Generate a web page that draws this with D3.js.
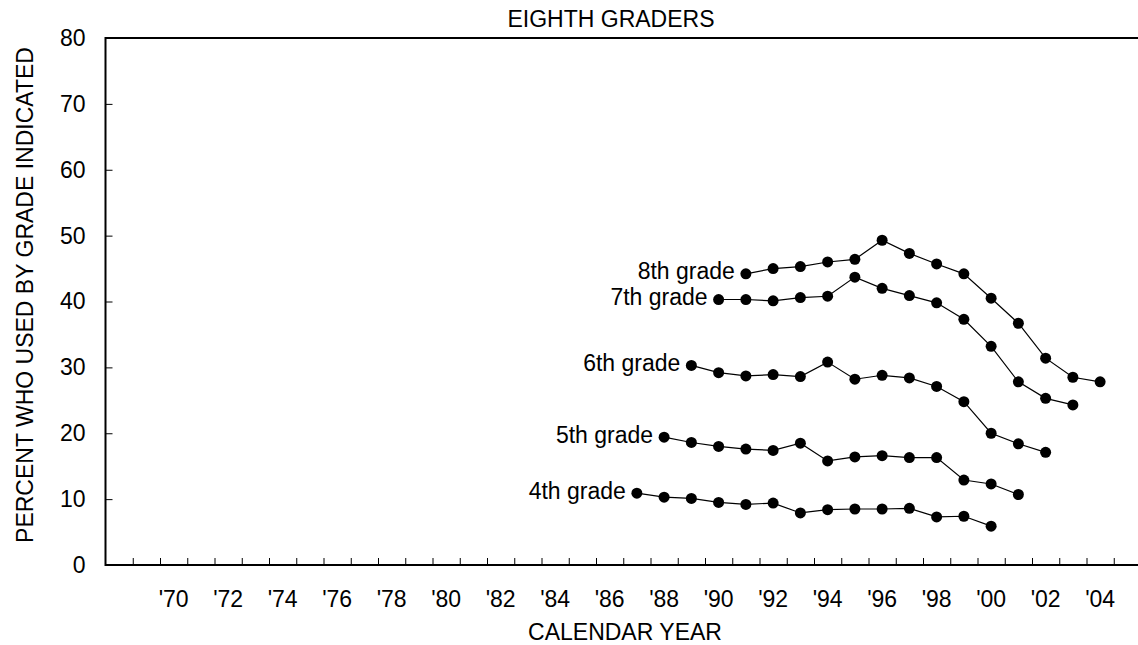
<!DOCTYPE html>
<html>
<head>
<meta charset="utf-8">
<script src="https://cdn.jsdelivr.net/npm/d3@7"></script>
<style>
    body { margin: 0; background: #fff; }
    text { font-family: "Liberation Sans", Arial, sans-serif; fill: #000; }
</style>
</head>
<body>
<div id="chart"></div>
<script>
// Eighth graders - retrospective use by grade
const grades = ['4th grade', '5th grade', '6th grade', '7th grade', '8th grade'];
const startYears = [1987, 1988, 1989, 1990, 1991];

const grade4 = [10.9, 10.3, 10.1, 9.5, 9.2, 9.4, 7.9, 8.4, 8.5, 8.5, 8.6, 7.3, 7.4, 5.9];
const grade5 = [19.4, 18.6, 18.0, 17.6, 17.4, 18.5, 15.8, 16.4, 16.6, 16.3, 16.3, 12.9, 12.3, 10.7];
const grade6 = [30.3, 29.2, 28.7, 28.9, 28.6, 30.8, 28.2, 28.8, 28.4, 27.1, 24.8, 20.0, 18.4, 17.1];
const grade7 = [40.3, 40.3, 40.1, 40.6, 40.8, 43.7, 42.0, 40.9, 39.8, 37.3, 33.2, 27.8, 25.3, 24.3];
const grade8 = [44.2, 45.0, 45.3, 46.0, 46.4, 49.3, 47.3, 45.7, 44.2, 40.5, 36.7, 31.4, 28.5, 27.8];

const yTicks = [0, 10, 20, 30, 40, 50, 60, 70, 80];
const xLabelYears = d3.range(1970, 2005, 2);
const xTickYears = d3.range(1968.5, 2005, 1);

const width = 1138;
const height = 645;
const fontSize = 23;

const svg = d3.select('#chart')
    .append('svg')
    .attr('width', width)
    .attr('height', height);

const x = d3.scaleLinear()
    .domain([1967.5, 2005.5])
    .range([105.5, 1141]);

const y = d3.scaleLinear()
    .domain([0, 80])
    .range([565, 38]);

// Title
svg.append('text')
    .attr('x', 611)
    .attr('y', 27)
    .attr('text-anchor', 'middle')
    .attr('font-size', fontSize + 'px')
    .text('EIGHTH GRADERS');

// Y axis ticks (inward)
const yAxis = d3.axisLeft(y)
    .tickValues(yTicks)
    .tickSize(-7)
    .tickPadding(20)
    .tickFormat(d3.format('d'));

const yAxisG = svg.append('g')
    .attr('transform', `translate(${x(1967.5)},0)`)
    .call(yAxis);
yAxisG.select('.domain').remove();
yAxisG.selectAll('.tick line').attr('stroke', '#000').attr('stroke-width', 1);
yAxisG.selectAll('.tick text')
    .attr('font-size', fontSize + 'px')
    .attr('font-family', '"Liberation Sans", Arial, sans-serif')
    .attr('fill', '#000');

// X axis ticks (inward)
const xAxis = d3.axisBottom(x)
    .tickValues(xTickYears)
    .tickSize(-7)
    .tickFormat('');

const xAxisG = svg.append('g')
    .attr('transform', `translate(0,${y(0)})`)
    .call(xAxis);
xAxisG.select('.domain').remove();
xAxisG.selectAll('.tick line').attr('stroke', '#000').attr('stroke-width', 1);

// X labels
svg.selectAll('.x-label')
    .data(xLabelYears)
    .enter()
    .append('text')
    .attr('class', 'x-label')
    .attr('x', d => x(d))
    .attr('y', 607)
    .attr('text-anchor', 'middle')
    .attr('font-size', fontSize + 'px')
    .text(d => "'" + String(d % 100).padStart(2, '0'));

// Frame: left, bottom, top
const x0 = x(1967.5);
svg.append('path')
    .attr('d', `M${width},${y(80)}H${x0}V${y(0)}H${width}`)
    .attr('fill', 'none')
    .attr('stroke', '#000')
    .attr('stroke-width', 2);

// Axis titles
svg.append('text')
    .attr('x', 625)
    .attr('y', 640)
    .attr('text-anchor', 'middle')
    .attr('font-size', fontSize + 'px')
    .text('CALENDAR YEAR');

svg.append('text')
    .attr('transform', 'translate(33,295) rotate(-90)')
    .attr('text-anchor', 'middle')
    .attr('font-size', fontSize + 'px')
    .text('PERCENT WHO USED BY GRADE INDICATED');

// Series
const series = [grade4, grade5, grade6, grade7, grade8].map((vals, i) => ({
    name: grades[i],
    points: vals.map((v, j) => ({ year: startYears[i] + j, value: v }))
}));

const line = d3.line()
    .x(d => x(d.year))
    .y(d => y(d.value));

const groups = svg.selectAll('.series')
    .data(series)
    .enter()
    .append('g')
    .attr('class', 'series');

groups.append('path')
    .attr('d', d => line(d.points))
    .attr('fill', 'none')
    .attr('stroke', '#000')
    .attr('stroke-width', 1.2);

groups.selectAll('circle')
    .data(d => d.points)
    .enter()
    .append('circle')
    .attr('cx', d => x(d.year))
    .attr('cy', d => y(d.value))
    .attr('r', 5.5)
    .attr('fill', '#000');

groups.append('text')
    .attr('x', d => x(d.points[0].year) - 11)
    .attr('y', d => y(d.points[0].value) + 5.5)
    .attr('text-anchor', 'end')
    .attr('font-size', fontSize + 'px')
    .text(d => d.name);
</script>
</body>
</html>
